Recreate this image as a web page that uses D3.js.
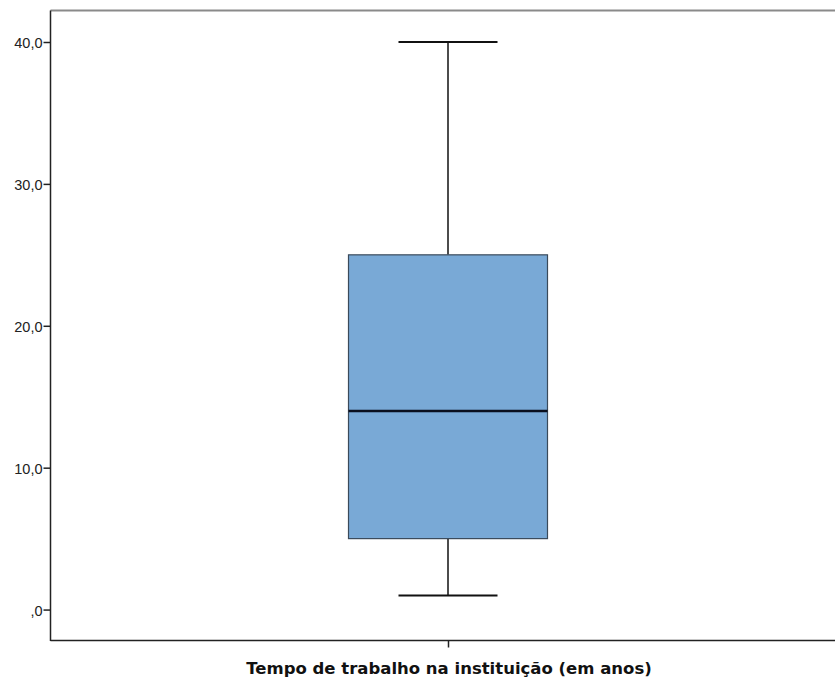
<!DOCTYPE html>
<html><head><meta charset="utf-8">
<script src="https://cdn.jsdelivr.net/npm/d3@7"></script>
<style>body{margin:0;background:#fff}svg{display:block}</style>
</head><body>
<svg id="c" width="835" height="682"></svg>
<script>
const categories = ["Tempo de trabalho na instituição (em anos)"];
const minValues = [1];
const q1Values = [5];
const medianValues = [14];
const q3Values = [25];
const maxValues = [40];
const yTicks = [0, 10, 20, 30, 40];
const yTickLabels = [",0", "10,0", "20,0", "30,0", "40,0"];

const svg = d3.select("#c");
const pLeft = 50.5, pTop = 10.5, pRight = 835, pBottom = 640.5;
const y = d3.scaleLinear().domain([-2.18, 42.22]).range([pBottom, pTop]);
const xc = d3.scalePoint().domain(categories).range([448, 448]);

// frame
svg.append("line").attr("x1", pLeft).attr("x2", pRight).attr("y1", pTop).attr("y2", pTop)
  .attr("stroke", "#8a8a8a").attr("stroke-width", 2);

// y axis
const yAxis = d3.axisLeft(y).tickValues(yTicks).tickSize(7).tickPadding(1)
  .tickFormat((d, i) => yTickLabels[i]);
const gy = svg.append("g").attr("transform", `translate(${pLeft},0)`).call(yAxis);
gy.select(".domain").remove();
gy.selectAll(".tick line").attr("stroke", "#222").attr("stroke-width", 1.5);
gy.selectAll(".tick text").attr("font-family", "'Liberation Sans', Arial, sans-serif")
  .attr("font-size", 14.5).attr("fill", "#222").attr("dy", "0.4em");
svg.append("line").attr("x1", pLeft).attr("x2", pLeft).attr("y1", pTop).attr("y2", pBottom + 0.5)
  .attr("stroke", "#222").attr("stroke-width", 1.5);

// x axis
const xAxis = d3.axisBottom(xc).tickSize(7).tickFormat("");
const gx = svg.append("g").attr("transform", `translate(0,${pBottom})`).call(xAxis);
gx.select(".domain").remove();
gx.selectAll(".tick line").attr("stroke", "#222").attr("stroke-width", 1.5);
svg.append("line").attr("x1", pLeft).attr("x2", pRight).attr("y1", pBottom).attr("y2", pBottom)
  .attr("stroke", "#222").attr("stroke-width", 1.5);

svg.append("text").attr("x", 449).attr("y", 674).attr("text-anchor", "middle")
  .attr("font-family", "'DejaVu Sans', Verdana, sans-serif").attr("font-weight", "bold")
  .attr("font-size", 16.5).attr("fill", "#111").text(categories[0]);

// box plot
const boxW = 199, capW = 99;
categories.forEach((c, i) => {
  const cx = xc(c);
  const g = svg.append("g");
  g.append("line").attr("x1", cx).attr("x2", cx).attr("y1", y(maxValues[i])).attr("y2", y(q3Values[i]))
    .attr("stroke", "#111").attr("stroke-width", 1.5);
  g.append("line").attr("x1", cx).attr("x2", cx).attr("y1", y(q1Values[i])).attr("y2", y(minValues[i]))
    .attr("stroke", "#111").attr("stroke-width", 1.5);
  g.append("line").attr("x1", cx - capW / 2).attr("x2", cx + capW / 2).attr("y1", y(maxValues[i])).attr("y2", y(maxValues[i]))
    .attr("stroke", "#111").attr("stroke-width", 2);
  g.append("line").attr("x1", cx - capW / 2).attr("x2", cx + capW / 2).attr("y1", y(minValues[i])).attr("y2", y(minValues[i]))
    .attr("stroke", "#111").attr("stroke-width", 2);
  g.append("rect").attr("x", cx - boxW / 2).attr("width", boxW)
    .attr("y", y(q3Values[i])).attr("height", y(q1Values[i]) - y(q3Values[i]))
    .attr("fill", "#79a9d6").attr("stroke", "#3a4a5a").attr("stroke-width", 1.2);
  g.append("line").attr("x1", cx - boxW / 2).attr("x2", cx + boxW / 2).attr("y1", y(medianValues[i])).attr("y2", y(medianValues[i]))
    .attr("stroke", "#0a0f1e").attr("stroke-width", 2.5);
});
</script>
</body></html>
